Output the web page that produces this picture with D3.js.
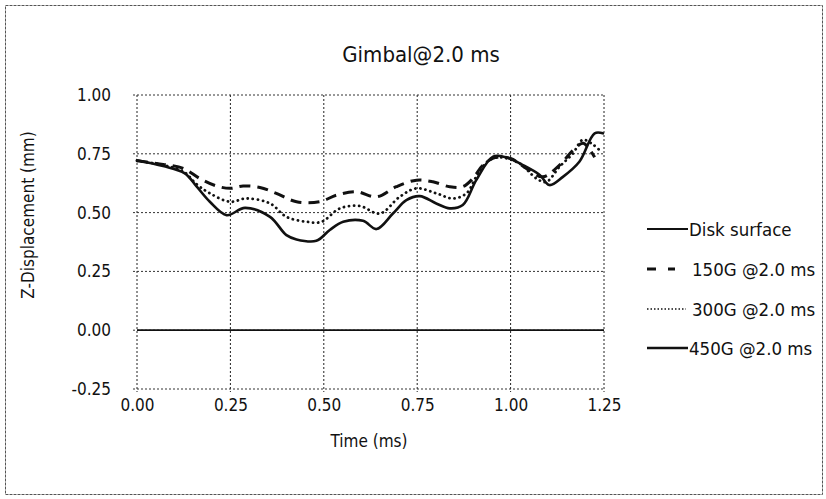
<!DOCTYPE html>
<html>
<head>
<meta charset="utf-8">
<script src="https://cdn.jsdelivr.net/npm/d3@7"></script>
<style>
  html, body { margin: 0; padding: 0; background: #fff; }
  svg { display: block; }
  text { font-family: "DejaVu Sans Condensed", "DejaVu Sans", sans-serif; fill: #111; }
</style>
</head>
<body>
<script>
// ---- data ----
const chartTitle = "Gimbal@2.0 ms";
const xTicks = [0, 0.25, 0.5, 0.75, 1.0, 1.25];
const yTicks = [-0.25, 0, 0.25, 0.5, 0.75, 1.0];

const diskTime = [0, 1.25];
const diskDisp = [0, 0];

const t150 = [0, 0.07, 0.124, 0.168, 0.213, 0.249, 0.284, 0.329, 0.373, 0.427, 0.489, 0.534, 0.587, 0.641, 0.694, 0.748, 0.792, 0.837, 0.872, 0.899, 0.926, 0.96, 1.0, 1.042, 1.086, 1.131, 1.17, 1.195, 1.225];
const d150 = [0.72, 0.705, 0.688, 0.645, 0.613, 0.603, 0.613, 0.607, 0.582, 0.546, 0.546, 0.574, 0.589, 0.567, 0.61, 0.638, 0.631, 0.61, 0.61, 0.645, 0.702, 0.735, 0.73, 0.688, 0.652, 0.702, 0.77, 0.795, 0.735];

const t300 = [0, 0.07, 0.124, 0.16, 0.195, 0.249, 0.293, 0.356, 0.40, 0.454, 0.494, 0.543, 0.596, 0.65, 0.703, 0.748, 0.801, 0.846, 0.882, 0.908, 0.94, 0.97, 1.024, 1.069, 1.095, 1.131, 1.167, 1.193, 1.22, 1.242];
const d300 = [0.72, 0.702, 0.675, 0.62, 0.582, 0.546, 0.56, 0.539, 0.482, 0.461, 0.461, 0.518, 0.528, 0.496, 0.567, 0.603, 0.582, 0.56, 0.582, 0.652, 0.72, 0.735, 0.709, 0.645, 0.63, 0.695, 0.752, 0.809, 0.79, 0.759];

const t450 = [0, 0.07, 0.128, 0.16, 0.195, 0.24, 0.289, 0.356, 0.40, 0.427, 0.48, 0.516, 0.552, 0.605, 0.641, 0.685, 0.721, 0.757, 0.801, 0.837, 0.872, 0.908, 0.953, 0.988, 1.033, 1.078, 1.104, 1.14, 1.184, 1.225, 1.247];
const d450 = [0.723, 0.698, 0.667, 0.61, 0.546, 0.489, 0.52, 0.482, 0.404, 0.386, 0.38, 0.426, 0.461, 0.465, 0.43, 0.496, 0.553, 0.57, 0.539, 0.518, 0.532, 0.638, 0.738, 0.735, 0.702, 0.66, 0.617, 0.652, 0.716, 0.837, 0.837];

const seriesNames = ["Disk surface", "150G @2.0 ms", "300G @2.0 ms", "450G @2.0 ms"];

// ---- layout ----
const W = 826, H = 499;
const svg = d3.select("body").append("svg").attr("width", W).attr("height", H);

svg.append("rect").attr("x", 5.5).attr("y", 5.5).attr("width", 817).attr("height", 489)
  .attr("fill", "none").attr("stroke", "#555").attr("stroke-width", 1).attr("stroke-dasharray", "3,1");

const x = d3.scaleLinear().domain([0, 1.25]).range([137, 604]);
const y = d3.scaleLinear().domain([-0.25, 1.0]).range([389, 95]);
const fmt = d => d3.format(".2f")(d).replace("\u2212", "-");

// grid
const grid = svg.append("g");
grid.selectAll(".gx").data(xTicks).enter().append("line")
  .attr("x1", d => x(d)).attr("x2", d => x(d)).attr("y1", y(1.0)).attr("y2", y(-0.25) + 3)
  .attr("stroke", "#222").attr("stroke-width", 1).attr("stroke-dasharray", "2,2");
grid.selectAll(".gy").data(yTicks).enter().append("line")
  .attr("x1", x(0) - 4).attr("x2", x(1.25)).attr("y1", d => y(d)).attr("y2", d => y(d))
  .attr("stroke", "#333").attr("stroke-width", 1).attr("stroke-dasharray", "2,2");

// axes labels via d3 axes (no domain)
const yAxis = svg.append("g").attr("transform", `translate(${x(0) - 23},0)`)
  .call(d3.axisLeft(y).tickValues(yTicks).tickFormat(fmt).tickSize(0));
yAxis.select(".domain").remove();
yAxis.selectAll("text").attr("font-size", 17).attr("font-family", "DejaVu Sans Condensed").attr("fill", "#111");

const xAxis = svg.append("g").attr("transform", `translate(0,${y(-0.25) + 4})`)
  .call(d3.axisBottom(x).tickValues(xTicks).tickFormat(fmt).tickSize(0));
xAxis.select(".domain").remove();
xAxis.selectAll("text").attr("font-size", 17).attr("font-family", "DejaVu Sans Condensed").attr("fill", "#111").attr("dy", "0.9em");

// titles
svg.append("text").attr("x", 421).attr("y", 62).attr("text-anchor", "middle")
  .attr("font-size", 22).text(chartTitle);
svg.append("text").attr("x", 369).attr("y", 447).attr("text-anchor", "middle")
  .attr("font-size", 17).text("Time (ms)");
svg.append("text").attr("transform", "translate(34,215) rotate(-90)").attr("text-anchor", "middle")
  .attr("font-size", 17).text("Z-Displacement (mm)");

// lines
const line = d3.line().x(d => x(d[0])).y(d => y(d[1])).curve(d3.curveCatmullRom.alpha(0.5));
const zip = (a, b) => a.map((v, i) => [v, b[i]]);

const styles = [
  { w: 1.8, dash: null, cap: "butt" },
  { w: 3, dash: "11,7", cap: "butt" },
  { w: 2.8, dash: "0.1,5", cap: "round" },
  { w: 2.6, dash: null, cap: "round" }
];
const series = [zip(diskTime, diskDisp), zip(t150, d150), zip(t300, d300), zip(t450, d450)];

svg.append("g").selectAll("path").data(series).enter().append("path")
  .attr("d", d => line(d))
  .attr("fill", "none").attr("stroke", "#111")
  .attr("stroke-width", (d, i) => styles[i].w)
  .attr("stroke-dasharray", (d, i) => styles[i].dash)
  .attr("stroke-linecap", (d, i) => styles[i].cap)
  .attr("stroke-linejoin", "round");

// legend
const legY = [229, 269, 309, 348];
const lg = svg.append("g");
const legMarkW = [41, 28, 39, 41];
seriesNames.forEach((name, i) => {
  lg.append("line").attr("x1", 647).attr("x2", 647 + legMarkW[i])
    .attr("y1", legY[i]).attr("y2", legY[i])
    .attr("stroke", "#111").attr("stroke-width", i === 2 ? 1.6 : styles[i].w)
    .attr("stroke-dasharray", i === 1 ? "9,12" : (i === 2 ? "1.5,2" : null));
  lg.append("text").attr("x", i === 0 || i === 3 ? 689 : 692).attr("y", legY[i] + 7)
    .attr("font-size", 18.5).text(name);
});
</script>
</body>
</html>
